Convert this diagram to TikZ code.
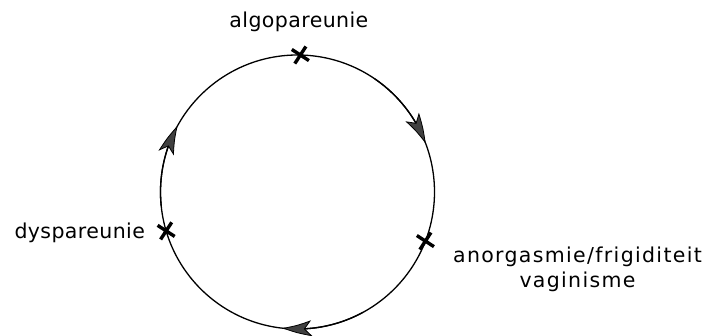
\documentclass[tikz,border=0pt]{standalone}
\usepackage{fontspec}
\setmainfont{DejaVu Sans}[LetterSpace=2]
\usetikzlibrary{arrows.meta,bending,positioning,shapes.misc}

\begin{document}
\begin{tikzpicture}[x=1pt, y=1pt,
cross/.style={cross out, draw, line width=3.4pt, minimum size=11pt, inner sep=0pt, rotate=12},
term/.style={font=\fontsize{20.5}{25}\selectfont, align=center, inner sep=2pt},
flowtip/.tip={Stealth[length=30pt, width=16pt, inset=7pt, fill=black!75, line width=0.8pt, bend]},
ring/.style={line width=1.3pt}
]
\useasboundingbox (0,0) rectangle (713,336);
\coordinate (c) at (297.5,144);

% the circle and its clockwise arrows
\draw[ring] (c) circle[radius=137];
\foreach \a [evaluate=\a as \b using \a+35] in {20.7, 151, 263.5}
  \draw[ring, -{flowtip}] ([shift={(\b:137)}]c) arc[start angle=\b, end angle=\a, radius=137];

\node[cross] (algo) at ([shift={(88.8:137)}]c) {};
\node[cross] (dysp) at ([shift={(196.5:137)}]c) {};
\node[cross] (anor) at ([shift={(-21:137)}]c) {};

\node[term, above=14pt of algo] (algolab) {algopareunie};
\node[term, left=12pt of dysp] (dysplab) {dyspareunie};
\node[term, below right=-2pt and 17pt of anor, font=\fontsize{20.5}{25}\selectfont\addfontfeature{LetterSpace=6.5}] (anorlab) {anorgasmie/frigiditeit\\vaginisme};
\end{tikzpicture}
\end{document}
